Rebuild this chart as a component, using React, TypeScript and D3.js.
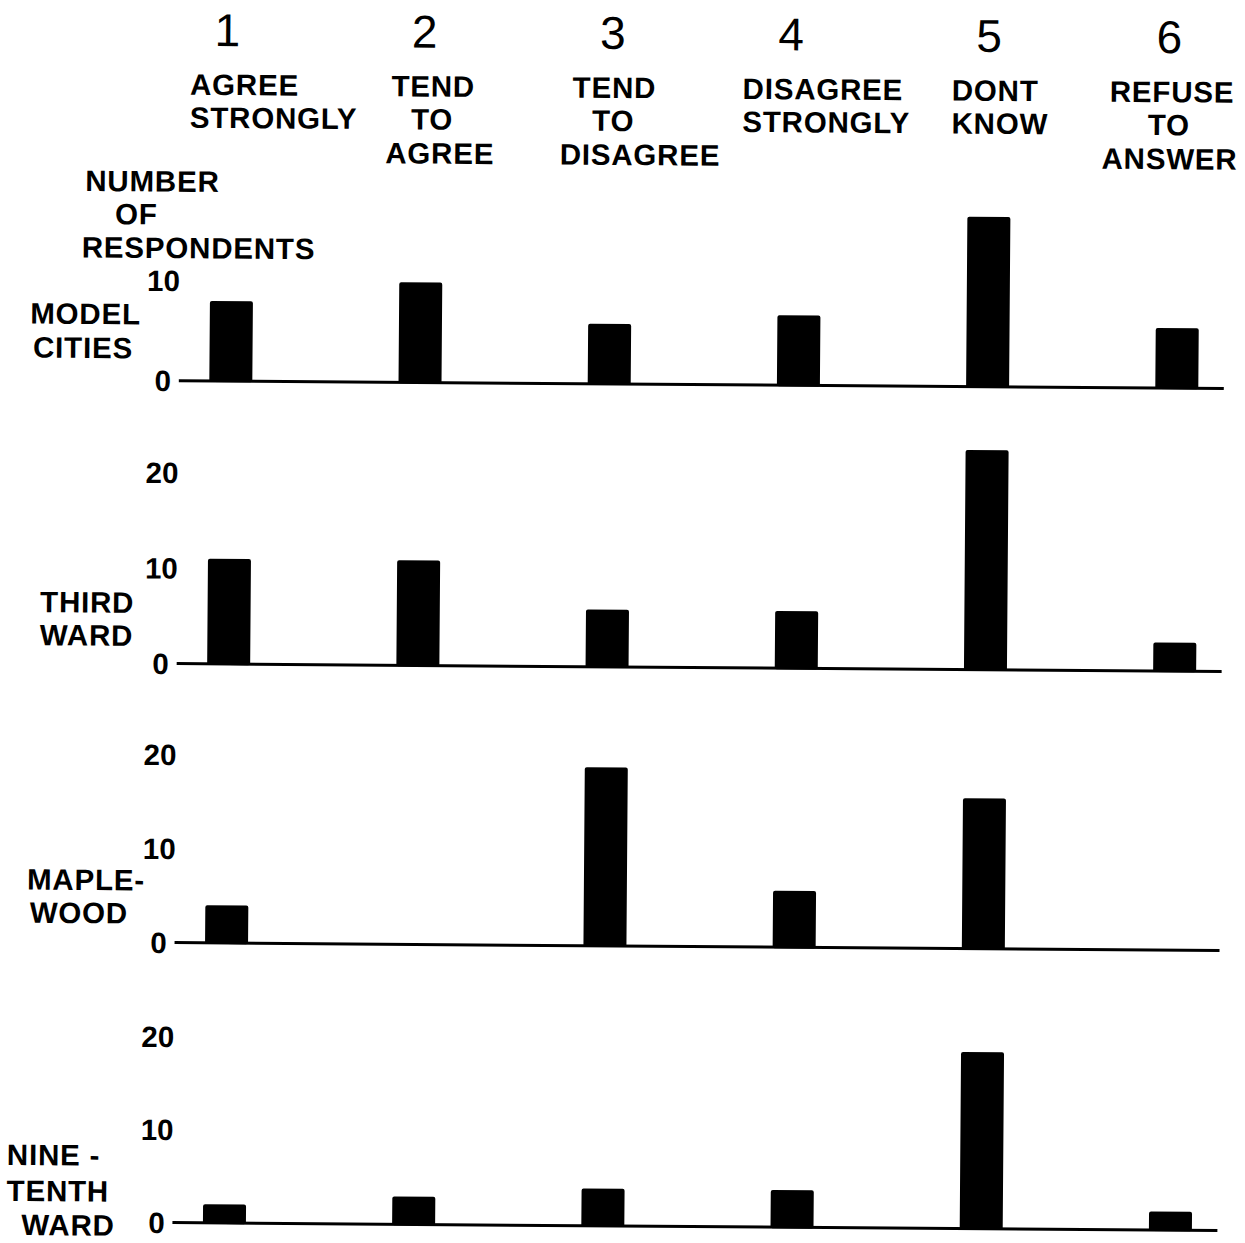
import React from "react";
import * as d3 from "d3";

// ---------- data ----------
const CATEGORY_NUMBERS = ["1", "2", "3", "4", "5", "6"];
const CATEGORY_LABELS = [
  ["AGREE", "STRONGLY"],
  ["TEND", "TO", "AGREE"],
  ["TEND", "TO", "DISAGREE"],
  ["DISAGREE", "STRONGLY"],
  ["DONT", "KNOW"],
  ["REFUSE", "TO", "ANSWER"],
];
const Y_TITLE = ["NUMBER", "OF", "RESPONDENTS"];
const GROUP_NAMES = [
  ["MODEL", "CITIES"],
  ["THIRD", "WARD"],
  ["MAPLE-", "WOOD"],
  ["NINE -", "TENTH", "WARD"],
];
const MODEL_CITIES = [8, 10, 6, 7, 17, 6];
const THIRD_WARD = [11, 11, 6, 6, 23, 3];
const MAPLEWOOD = [4, 0, 19, 6, 16, 0];
const NINETEENTH_WARD = [2, 3, 4, 4, 19, 2];
const TICKS_MODEL = [0, 10];
const TICKS_WARD = [0, 10, 20];

const SERIES = [MODEL_CITIES, THIRD_WARD, MAPLEWOOD, NINETEENTH_WARD];
const SERIES_TICKS = [TICKS_MODEL, TICKS_WARD, TICKS_WARD, TICKS_WARD];

// ---------- layout ----------
const W = 1245;
const H = 1243;
const FONT = "'Liberation Sans', Arial, sans-serif";
const FS = 29.5;
const LS = 0.8;
const CAP = 0.358 * FS; // half cap height, to centre capitals on a y
const BAR_W = 43;
const AXIS_X0 = 177;
const AXIS_X1 = 1222;
const BASELINES = [384, 667, 946, 1226];
const PX_PER_UNIT = [10, 9.55, 9.4, 9.3];
const NUM_DX = [-6, 2, 1, -10, -1, -10];
const HEAD_ANCHOR = ["start", "middle", "middle", "start", "start", "middle"];
const HEAD_DX = [
  [-43, -43],
  [11, 10, 18],
  [3, 2, 29],
  [-58, -58],
  [-38, -38],
  [-7, -10, -9],
];
const HEAD_CY = [87.5, 120.5, 154.5];
const Y_TITLE_POS = [
  [82, 184.5],
  [112, 217.5],
  [79, 251],
];
const GROUP_POS = [
  [[28, 317.5], [31, 351.5]],
  [[40, 606], [40, 639]],
  [[29, 883.5], [32, 916.6]],
  [[11, 1159], [11, 1195], [26, 1229]],
];
const TICK_X = 161;

export default function App() {
  const x = d3.scalePoint<string>().domain(CATEGORY_NUMBERS).range([229, 1175]);

  const panels = SERIES.map((values, i) => {
    const base = BASELINES[i];
    const y = d3
      .scaleLinear()
      .domain([0, 20])
      .range([base, base - 20 * PX_PER_UNIT[i]]);
    return { values, y, ticks: SERIES_TICKS[i], names: GROUP_NAMES[i], pos: GROUP_POS[i] };
  });

  return (
    <svg
      width={W}
      height={H}
      viewBox={`0 0 ${W} ${H}`}
      style={{ position: "absolute", left: 0, top: 0, background: "#fff" }}
    >
      <rect x={0} y={0} width={W} height={H} fill="#fff" />
      <g transform="rotate(0.435, 622, 622)" fill="#000" fontFamily={FONT}>
        {/* column numbers */}
        {CATEGORY_NUMBERS.map((c, i) => (
          <text
            key={"n" + c}
            x={(x(c) as number) + NUM_DX[i]}
            y={49}
            textAnchor="middle"
            fontSize={46}
            fontWeight={400}
          >
            {c}
          </text>
        ))}
        {/* column headings */}
        {CATEGORY_LABELS.map((lines, i) =>
          lines.map((t, j) => (
            <text
              key={"h" + i + "-" + j}
              x={(x(CATEGORY_NUMBERS[i]) as number) + HEAD_DX[i][j]}
              y={HEAD_CY[j] + CAP}
              textAnchor={HEAD_ANCHOR[i] as any}
              fontSize={FS}
              fontWeight={700}
              letterSpacing={LS}
            >
              {t}
            </text>
          ))
        )}
        {/* y axis title */}
        {Y_TITLE.map((t, j) => (
          <text
            key={"yt" + j}
            x={Y_TITLE_POS[j][0]}
            y={Y_TITLE_POS[j][1] + CAP}
            fontSize={FS}
            fontWeight={700}
            letterSpacing={LS}
          >
            {t}
          </text>
        ))}
        {/* panels */}
        {panels.map((p, i) => (
          <g key={"p" + i}>
            {p.names.map((t, j) => (
              <text
                key={"g" + j}
                x={p.pos[j][0]}
                y={p.pos[j][1] + CAP}
                fontSize={FS}
                fontWeight={700}
                letterSpacing={LS}
              >
                {t}
              </text>
            ))}
            {p.ticks.map((t) => (
              <text
                key={"t" + t}
                x={TICK_X}
                y={p.y(t) + CAP}
                textAnchor="middle"
                fontSize={FS}
                fontWeight={700}
              >
                {t}
              </text>
            ))}
            {p.values.map((v, k) =>
              v > 0 ? (
                <rect
                  key={"b" + k}
                  x={(x(CATEGORY_NUMBERS[k]) as number) - BAR_W / 2}
                  y={p.y(v)}
                  width={BAR_W}
                  height={p.y(0) - p.y(v) + 1}
                  rx={2}
                  fill="#000"
                />
              ) : null
            )}
            <line
              x1={AXIS_X0}
              x2={AXIS_X1}
              y1={p.y(0)}
              y2={p.y(0)}
              stroke="#000"
              strokeWidth={3}
            />
          </g>
        ))}
      </g>
    </svg>
  );
}
